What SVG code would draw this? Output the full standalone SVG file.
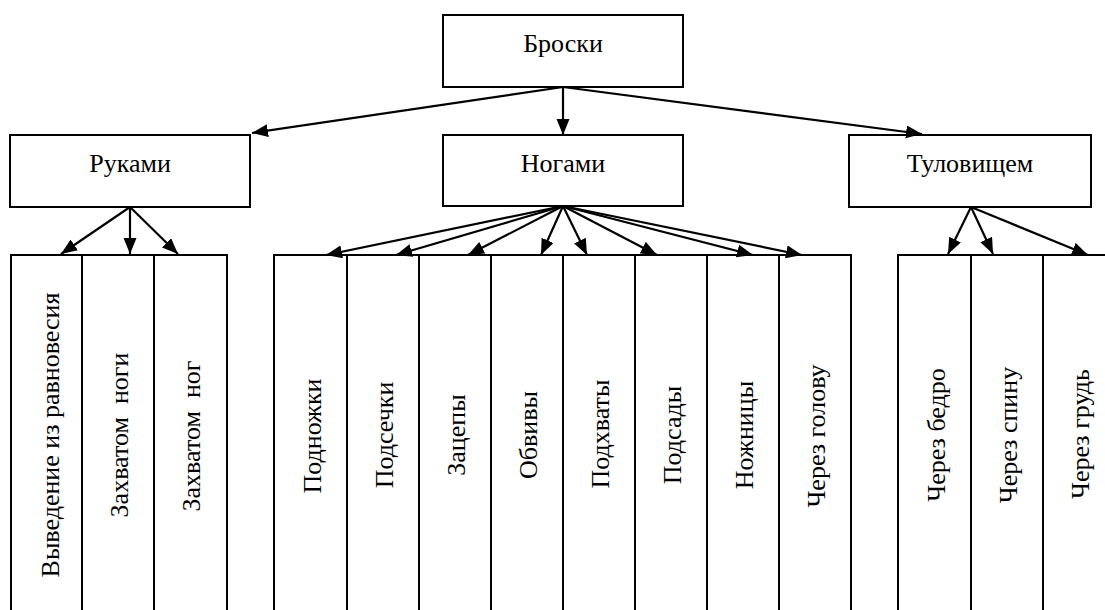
<svg xmlns="http://www.w3.org/2000/svg" width="1105" height="610" viewBox="0 0 1105 610">
<style>
.box{fill:#fff;stroke:#000;stroke-width:2}
.t{font-family:"Liberation Serif","Times New Roman",serif;font-size:26px;fill:#000;text-anchor:middle}
.c{stroke:#000;stroke-width:2.2;fill:none;marker-end:url(#ah)}
</style>
<defs>
<marker id="ah" markerUnits="userSpaceOnUse" markerWidth="18" markerHeight="14" refX="16" refY="6.5" orient="auto">
<path d="M0,0 L16,6.5 L0,13 Z" fill="#000"/>
</marker>
</defs>
<rect width="1105" height="610" fill="#fff"/>
<g id="n-broski"><rect class="box" x="443" y="15" width="240" height="72"/><text class="t" x="563" y="52">Броски</text></g>
<g id="n-rukami"><rect class="box" x="10" y="135" width="240" height="72"/><text class="t" x="130" y="172">Руками</text></g>
<g id="n-nogami"><rect class="box" x="443" y="135" width="240" height="71"/><text class="t" x="563" y="172">Ногами</text></g>
<g id="n-tulov"><rect class="box" x="849" y="135" width="242" height="72"/><text class="t" x="970" y="172">Туловищем</text></g>

<g id="n-l1"><rect class="box" x="11" y="255" width="71" height="365"/><text class="t" transform="translate(59,435) rotate(-90)">Выведение из равновесия</text></g>
<g id="n-l2"><rect class="box" x="82" y="255" width="72" height="365"/><text class="t" transform="translate(128,435) rotate(-90)" xml:space="preserve">Захватом  ноги</text></g>
<g id="n-l3"><rect class="box" x="154" y="255" width="73" height="365"/><text class="t" transform="translate(200,436) rotate(-90)" xml:space="preserve">Захватом  ног</text></g>

<g id="n-m1"><rect class="box" x="274" y="255" width="73" height="365"/><text class="t" transform="translate(321,436) rotate(-90)">Подножки</text></g>
<g id="n-m2"><rect class="box" x="347" y="255" width="72" height="365"/><text class="t" transform="translate(393,435) rotate(-90)">Подсечки</text></g>
<g id="n-m3"><rect class="box" x="419" y="255" width="72" height="365"/><text class="t" transform="translate(465,435) rotate(-90)">Зацепы</text></g>
<g id="n-m4"><rect class="box" x="491" y="255" width="72" height="365"/><text class="t" transform="translate(537,435) rotate(-90)">Обвивы</text></g>
<g id="n-m5"><rect class="box" x="563" y="255" width="72" height="365"/><text class="t" transform="translate(609,434) rotate(-90)">Подхваты</text></g>
<g id="n-m6"><rect class="box" x="635" y="255" width="72" height="365"/><text class="t" transform="translate(681,435) rotate(-90)">Подсады</text></g>
<g id="n-m7"><rect class="box" x="707" y="255" width="72" height="365"/><text class="t" transform="translate(753,435) rotate(-90)">Ножницы</text></g>
<g id="n-m8"><rect class="box" x="779" y="255" width="72" height="365"/><text class="t" transform="translate(825,436) rotate(-90)">Через голову</text></g>

<g id="n-r1"><rect class="box" x="898" y="255" width="73" height="365"/><text class="t" transform="translate(945,435) rotate(-90)">Через бедро</text></g>
<g id="n-r2"><rect class="box" x="971" y="255" width="72" height="365"/><text class="t" transform="translate(1017,435) rotate(-90)">Через спину</text></g>
<g id="n-r3"><rect class="box" x="1043" y="255" width="75" height="365"/><text class="t" transform="translate(1089,434) rotate(-90)">Через грудь</text></g>

<g id="connectors">
<line class="c" x1="563" y1="87" x2="252" y2="133"/>
<line class="c" x1="563" y1="87" x2="563" y2="135"/>
<line class="c" x1="563" y1="87" x2="922" y2="134"/>

<line class="c" x1="130" y1="207" x2="61" y2="254"/>
<line class="c" x1="130" y1="207" x2="130" y2="254"/>
<line class="c" x1="130" y1="207" x2="178" y2="254"/>

<line class="c" x1="563" y1="206" x2="326" y2="255"/>
<line class="c" x1="563" y1="206" x2="396" y2="255"/>
<line class="c" x1="563" y1="206" x2="468" y2="255"/>
<line class="c" x1="563" y1="206" x2="541" y2="255"/>
<line class="c" x1="563" y1="206" x2="587" y2="255"/>
<line class="c" x1="563" y1="206" x2="657" y2="255"/>
<line class="c" x1="563" y1="206" x2="753" y2="255"/>
<line class="c" x1="563" y1="206" x2="802" y2="255"/>

<line class="c" x1="971" y1="207" x2="948" y2="254"/>
<line class="c" x1="971" y1="207" x2="993" y2="254"/>
<line class="c" x1="971" y1="207" x2="1088" y2="255"/>
</g>
</svg>
